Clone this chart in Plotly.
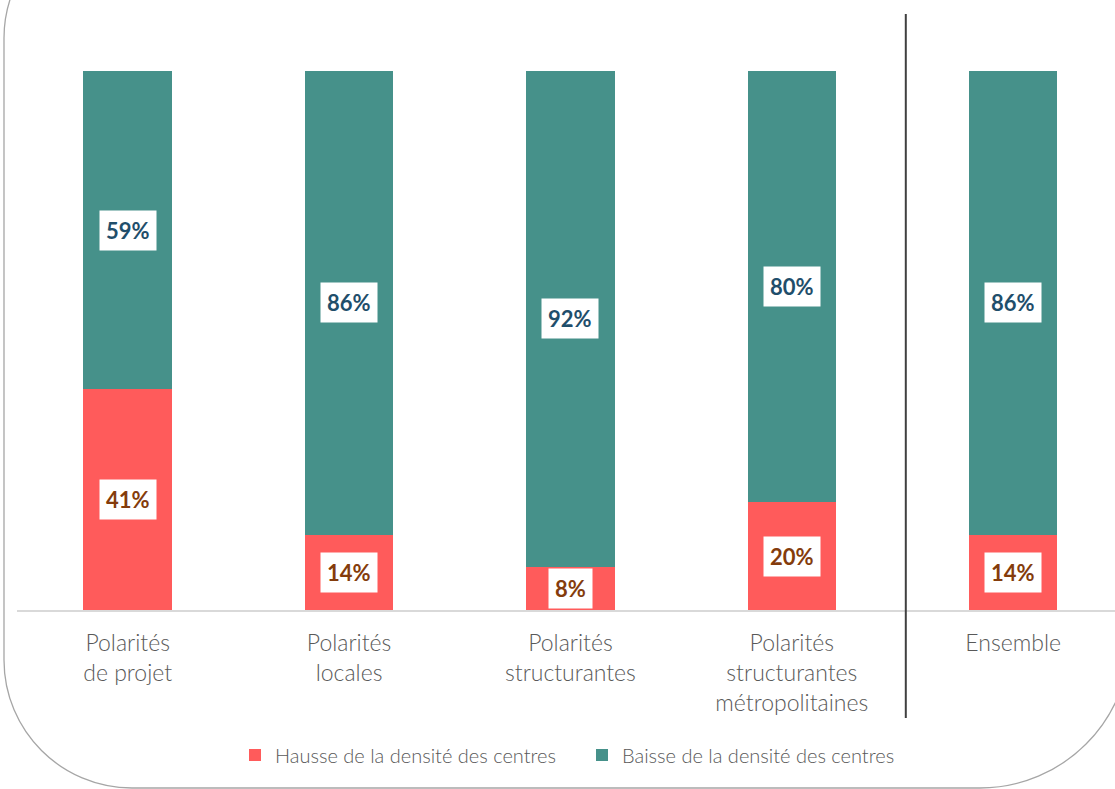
import plotly.graph_objects as go

categories = ["Polarités<br>de projet", "Polarités<br>locales", "Polarités<br>structurantes",
              "Polarités<br>structurantes<br>métropolitaines", "Ensemble"]
hausse = [41, 14, 8, 20, 14]
baisse = [59, 86, 92, 80, 86]
series_names = ["Hausse de la densité des centres", "Baisse de la densité des centres"]

RED = "#FF5B5B"
GREEN = "#46918A"
TXT = "#595959"
FONT = "Lato"

W, H = 1115, 789
ML, MR, MT = 17, 0, 71
MB = H - 610
PW, PH = W - ML - MR, H - MT - MB

xs = list(range(len(categories)))

fig = go.Figure()
fig.add_trace(go.Bar(x=xs, y=hausse, name=series_names[0], marker=dict(color=RED, line=dict(width=0)),
                     width=0.4, hoverinfo="skip"))
fig.add_trace(go.Bar(x=xs, y=baisse, name=series_names[1], marker=dict(color=GREEN, line=dict(width=0)),
                     width=0.4, hoverinfo="skip"))

annotations = []
for i, (h, b) in enumerate(zip(hausse, baisse)):
    annotations.append(dict(x=i, y=h / 2, xref="x", yref="y", text=f"<b>{h}%</b>", showarrow=False,
                            font=dict(family=FONT, size=22, color="#843C0C"), bgcolor="white", borderpad=6))
    annotations.append(dict(x=i, y=h + b / 2, xref="x", yref="y", text=f"<b>{b}%</b>", showarrow=False,
                            font=dict(family=FONT, size=22, color="#1F4E6B"), bgcolor="white", borderpad=6))


def px(x, y):
    # window pixel -> paper coords
    return (x - ML) / PW, (MT + PH - y) / PH


def pt(x, y):
    a, b = px(x, y)
    return f"{a:.5f},{b:.5f}"


K = 0.5523

# frame path (pixel coords) built with cubic beziers
L, R, B, T = 4, 1130, 788, -87
r_tl, r_bl, r_br = 125, 128, 150
path = "M" + pt(R, T - 20)
path += " L" + pt(R, B - r_br)
path += " C" + pt(R, B - r_br + K * r_br) + " " + pt(R - r_br + K * r_br, B) + " " + pt(R - r_br, B)
path += " L" + pt(L + r_bl, B)
path += " C" + pt(L + r_bl - K * r_bl, B) + " " + pt(L, B - r_bl + K * r_bl) + " " + pt(L, B - r_bl)
path += " L" + pt(L, T + r_tl)
path += " C" + pt(L, T + r_tl - K * r_tl) + " " + pt(L + r_tl - K * r_tl, T) + " " + pt(L + r_tl, T)
path += " L" + pt(R, T)

shapes = [
    dict(type="path", xref="paper", yref="paper", path=path, line=dict(color="#A6A6A6", width=1.3), layer="below"),
    dict(type="line", xref="x", yref="paper", x0=3.515, x1=3.515, y0=px(0, 14)[1], y1=px(0, 718)[1],
         line=dict(color="#404040", width=2)),
]

fig.update_layout(
    width=W, height=H,
    barmode="stack",
    plot_bgcolor="white", paper_bgcolor="white",
    margin=dict(l=ML, r=MR, t=MT, b=MB, pad=0),
    font=dict(family=FONT, color=TXT),
    xaxis=dict(range=[-0.5, 4.46], tickvals=xs, ticktext=categories, showgrid=False, zeroline=False,
               showline=True, linecolor="#D9D9D9", linewidth=1.5, ticks="", ticklabelstandoff=12,
               tickfont=dict(family=FONT, size=23, color=TXT, weight=300), fixedrange=True),
    yaxis=dict(range=[0, 100], visible=False, fixedrange=True),
    showlegend=True,
    legend=dict(orientation="h", x=px(582, 0)[0], xanchor="center", y=px(0, 755)[1], yanchor="middle",
                traceorder="normal", font=dict(family=FONT, size=20, color=TXT, weight=300),
                itemwidth=30, entrywidth=302, bgcolor="rgba(0,0,0,0)"),
    annotations=annotations,
    shapes=shapes,
    bargap=0.6,
)

fig.write_html("out.html", config={"displayModeBar": False},
               post_script="document.body.style.margin='0';document.body.style.overflow='hidden';")
